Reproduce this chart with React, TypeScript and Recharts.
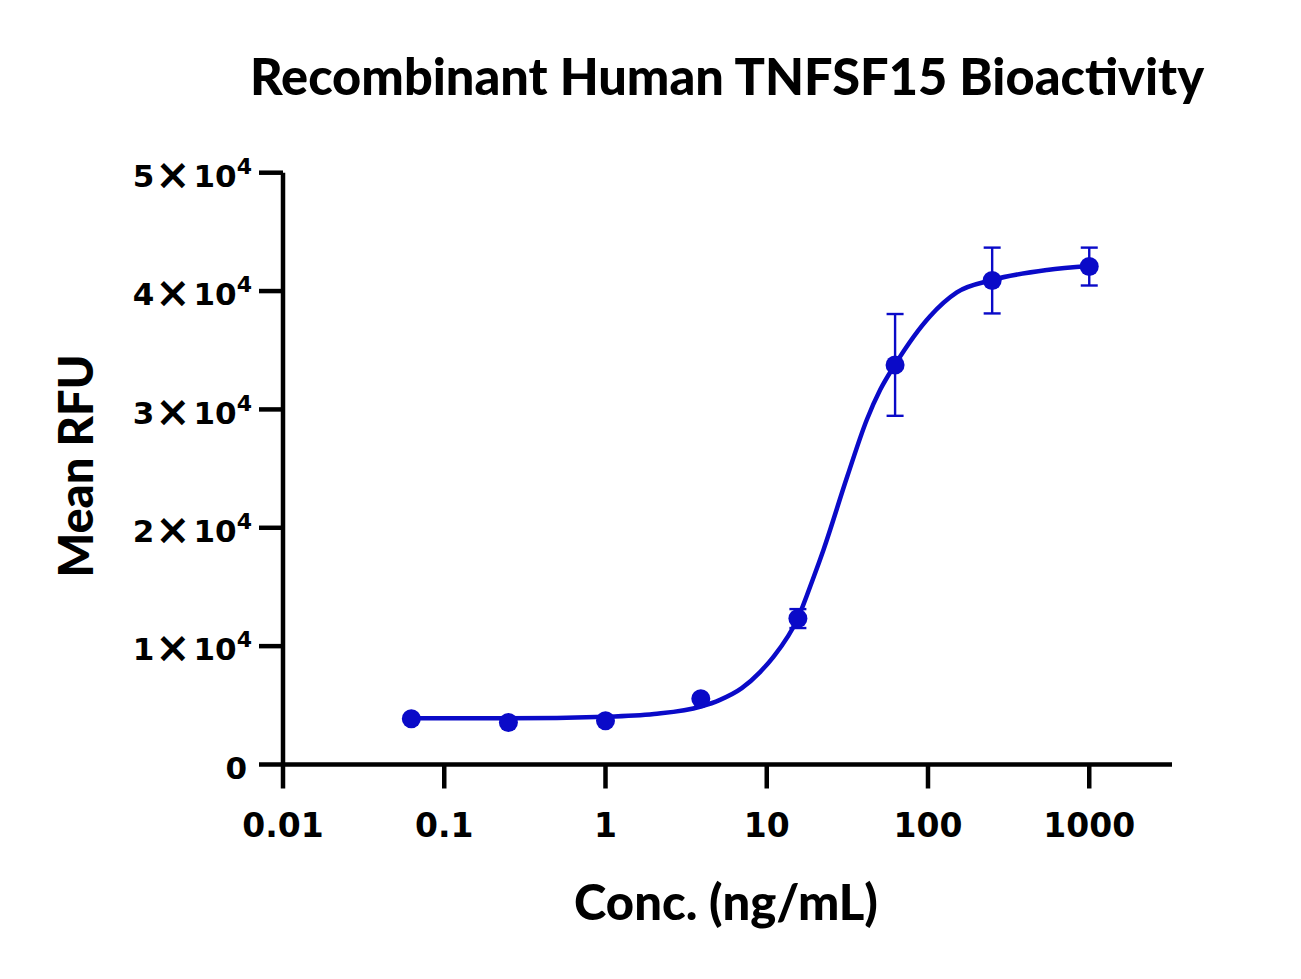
import { ComposedChart, ErrorBar, Line, Scatter, XAxis, YAxis } from "recharts"

const BLUE = "#0a0ac8"
const INK = "#000000"
const FONT = "Lato, 'Noto Sans', sans-serif"
const TICK_FONT = "'DejaVu Sans', Verdana, sans-serif"

// measured points (ng/mL, mean RFU, SD)
const conc = [0.0625, 0.25, 1, 3.9, 15.6, 62.5, 250, 1000]
const meanRfu = [3870, 3550, 3700, 5560, 12330, 33760, 40890, 42070]
const sdRfu = [0, 0, 0, 0, 800, 4300, 2780, 1600]

// fitted curve
const curveConc = [0.0625, 0.25, 1, 2, 3.9, 5.13, 7, 9.12, 11, 15.6, 19.5, 22.5, 31.6, 41.8, 50.6, 62.5, 103, 151, 250, 547, 1000]
const curveRfu = [3910, 3910, 4040, 4270, 4890, 5460, 6450, 7830, 9090, 12370, 15800, 18150, 24350, 29150, 31680, 33800, 37880, 39890, 40930, 41780, 42120]

const xTicks = [0.01, 0.1, 1, 10, 100, 1000]
const xTickLabels = ["0.01", "0.1", "1", "10", "100", "1000"]
const yTicks = [0, 10000, 20000, 30000, 40000, 50000]

const points = conc.map((x, i) => ({ x, y: meanRfu[i], err: sdRfu[i] }))
const curve = curveConc.map((x, i) => ({ x, y: curveRfu[i] }))

function XTick({ x, y, payload }: any) {
  const i = xTicks.indexOf(payload.value)
  return (
    <text x={x} y={y + 48.8} textAnchor="middle" fontFamily={TICK_FONT} fontWeight={700} fontSize={33} fill={INK}>
      {i >= 0 ? xTickLabels[i] : payload.value}
    </text>
  )
}

function YTick({ x, y, payload }: any) {
  const v = payload.value as number
  if (v === 0) {
    return (
      <text x={x - 12} y={y + 14.3} textAnchor="end" fontFamily={TICK_FONT} fontWeight={700} fontSize={31} fill={INK}>
        0
      </text>
    )
  }
  return (
    <text x={x - 7} y={y + 14.3} textAnchor="end" fontFamily={TICK_FONT} fontWeight={700} fontSize={31} fill={INK}>
      <tspan>{`${v / 10000}`}</tspan>
      <tspan dx={1} dy={2} fontSize={42}>×</tspan>
      <tspan dx={3} dy={-2}>10</tspan>
      <tspan dy={-13} fontSize={22}>4</tspan>
    </text>
  )
}

function Dot({ cx, cy }: any) {
  if (cx == null || cy == null) return null
  return <circle cx={cx} cy={cy} r={9.5} fill={BLUE} />
}

export default function App() {
  return (
    <div style={{ position: "absolute", left: 0, top: 0, width: 1301, height: 979, background: "#fff" }}>
      <ComposedChart width={1301} height={979} margin={{ top: 172.7, right: 129, bottom: 154.5, left: 0 }}>
        <XAxis
          dataKey="x"
          type="number"
          scale="log"
          domain={[0.01, 3260]}
          allowDataOverflow
          ticks={xTicks}
          tick={<XTick />}
          tickSize={24}
          tickMargin={0}
          height={60}
          axisLine={{ stroke: INK, strokeWidth: 4.5 }}
          tickLine={{ stroke: INK, strokeWidth: 4.5 }}
        />
        <YAxis
          type="number"
          domain={[0, 50000]}
          ticks={yTicks}
          tick={<YTick />}
          tickSize={24}
          tickMargin={0}
          width={283}
          axisLine={{ stroke: INK, strokeWidth: 4.5 }}
          tickLine={{ stroke: INK, strokeWidth: 4.5 }}
        />
        <Line
          data={curve}
          dataKey="y"
          type="monotone"
          stroke={BLUE}
          strokeWidth={4.5}
          dot={false}
          activeDot={false}
          isAnimationActive={false}
        />
        <Scatter data={points} dataKey="y" fill={BLUE} shape={<Dot />} isAnimationActive={false}>
          <ErrorBar dataKey="err" direction="y" width={8.5} strokeWidth={2.4} stroke={BLUE} isAnimationActive={false} />
        </Scatter>
      </ComposedChart>
      <svg width={1301} height={979} style={{ position: "absolute", left: 0, top: 0, pointerEvents: "none" }}>
        <text x={727} y={95} textAnchor="middle" fontFamily={FONT} fontWeight={900} fontSize={50.5} fill={INK}>
          Recombinant Human TNFSF15 Bioactivity
        </text>
        <text x={726} y={920} textAnchor="middle" fontFamily={FONT} fontWeight={900} fontSize={49} fill={INK}>
          Conc. (ng/mL)
        </text>
        <text
          x={0}
          y={0}
          transform="translate(93,466) rotate(-90)"
          textAnchor="middle"
          fontFamily={FONT}
          fontWeight={900}
          fontSize={47}
          fill={INK}
        >
          Mean RFU
        </text>
      </svg>
    </div>
  )
}
